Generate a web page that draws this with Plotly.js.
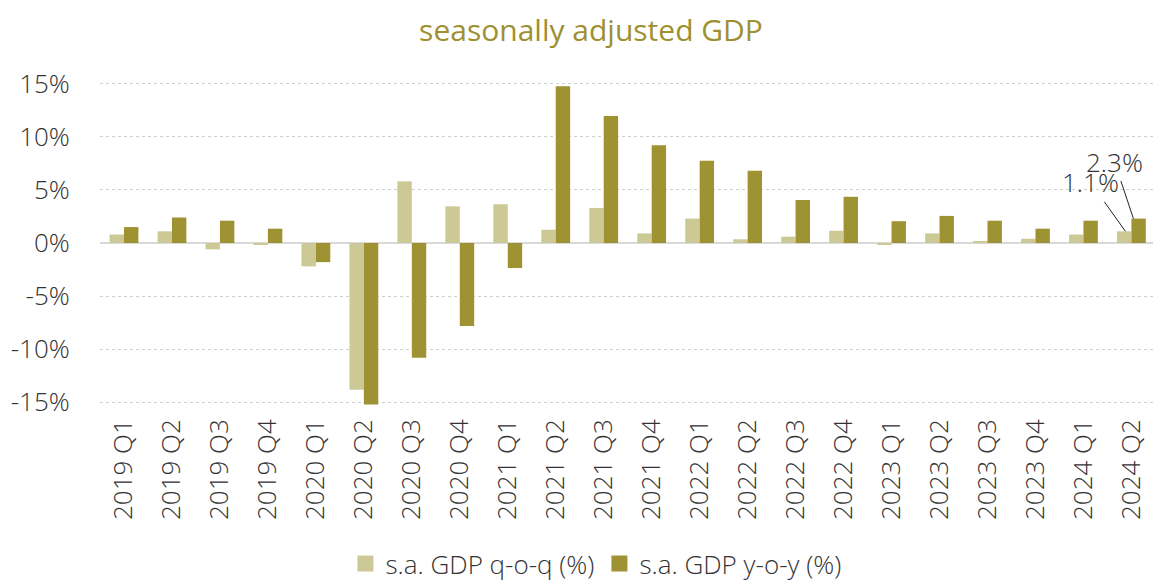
<!DOCTYPE html>
<html>
<head>
<meta charset="utf-8">
<script src="https://cdn.plot.ly/plotly-3.0.1.min.js"></script>
<style>html,body{margin:0;padding:0;background:#fff;}#chart{width:1153px;height:582px;}</style>
</head>
<body>
<div id="chart"></div>
<script>
const quarters = ["2019 Q1","2019 Q2","2019 Q3","2019 Q4","2020 Q1","2020 Q2","2020 Q3","2020 Q4","2021 Q1","2021 Q2","2021 Q3","2021 Q4","2022 Q1","2022 Q2","2022 Q3","2022 Q4","2023 Q1","2023 Q2","2023 Q3","2023 Q4","2024 Q1","2024 Q2"];
const qoq = [0.8,1.1,-0.6,-0.15,-2.2,-13.8,5.8,3.45,3.65,1.25,3.3,0.9,2.3,0.35,0.6,1.15,-0.15,0.9,0.15,0.4,0.8,1.1];
const yoy = [1.5,2.4,2.1,1.35,-1.8,-15.2,-10.8,-7.8,-2.35,14.75,11.95,9.2,7.75,6.8,4.05,4.35,2.05,2.55,2.1,1.35,2.1,2.3];
const yTicks = [-15,-10,-5,0,5,10,15];
const yTickText = ["-15%","-10%","-5%","0%","5%","10%","15%"];
const seriesNames = ["s.a. GDP q-o-q (%)","s.a. GDP y-o-y (%)"];
const seriesColors = ["#cdc997","#9f9232"];
const lastLabels = ["1.1%","2.3%"];

const FONT = "Open Sans, Noto Sans, sans-serif";
const TXT = "#333333";

const traces = [
  {type:"bar", name:seriesNames[0], x:quarters, y:qoq, marker:{color:seriesColors[0], line:{width:0}}, showlegend:false, hoverinfo:"x+y"},
  {type:"bar", name:seriesNames[1], x:quarters, y:yoy, marker:{color:seriesColors[1], line:{width:0}}, showlegend:false, hoverinfo:"x+y"},
  {type:"scatter", mode:"markers", name:seriesNames[0], x:[null], y:[null], marker:{symbol:"square", size:20, color:seriesColors[0]}, showlegend:true, hoverinfo:"skip"},
  {type:"scatter", mode:"markers", name:seriesNames[1], x:[null], y:[null], marker:{symbol:"square", size:20, color:seriesColors[1]}, showlegend:true, hoverinfo:"skip"}
];

const last = quarters.length - 1;
const layout = {
  width:1153, height:582, autosize:false,
  margin:{l:100, r:0, t:73, b:169, autoexpand:false},
  paper_bgcolor:"#fff", plot_bgcolor:"#fff",
  font:{family:FONT, size:26, color:TXT, weight:300},
  title:{text:"seasonally adjusted GDP", font:{family:FONT, size:30, color:"#9e9030", weight:400}, x:0.5126, xref:"container", xanchor:"center", y:0.948, yref:"container", yanchor:"middle"},
  barmode:"group", bargap:0.4, bargroupgap:0,
  xaxis:{type:"category", range:[-0.5, 21.45], tickangle:-90, tickmode:"array", tickvals:quarters, ticktext:quarters, showgrid:false, zeroline:false, showline:false, ticks:"", automargin:false, tickfont:{family:FONT, size:26, color:TXT, weight:300}, fixedrange:true},
  yaxis:{range:[-16,16], tickvals:yTicks, ticktext:yTickText, showgrid:true, gridcolor:"#cfcfcf", griddash:"dot", gridwidth:1, zeroline:true, zerolinecolor:"#d9d9d9", zerolinewidth:2, showline:false, ticks:"outside", ticklen:24, tickcolor:"rgba(0,0,0,0)", automargin:false, tickfont:{family:FONT, size:26, color:TXT, weight:300}, fixedrange:true},
  legend:{orientation:"h", x:0.471, xanchor:"center", y:-0.443, yanchor:"middle", font:{family:FONT, size:26, color:TXT, weight:300}, traceorder:"normal", itemsizing:"trace", tracegroupgap:0},
  showlegend:true,
  annotations:[
    {x:quarters[last], y:qoq[last], xref:"x", yref:"y", text:lastLabels[0], showarrow:true, arrowhead:0, arrowwidth:1, arrowcolor:"#222", axref:"pixel", ayref:"pixel", ax:-35, ay:-49, xshift:-6, font:{family:FONT, size:26, color:"#333", weight:300}},
    {x:quarters[last], y:yoy[last], xref:"x", yref:"y", text:lastLabels[1], showarrow:true, arrowhead:0, arrowwidth:1, arrowcolor:"#222", axref:"pixel", ayref:"pixel", ax:-19, ay:-57, xshift:2, font:{family:FONT, size:26, color:"#333", weight:300}}
  ]
};

Plotly.newPlot("chart", traces, layout, {displayModeBar:false, responsive:false});
</script>
</body>
</html>
